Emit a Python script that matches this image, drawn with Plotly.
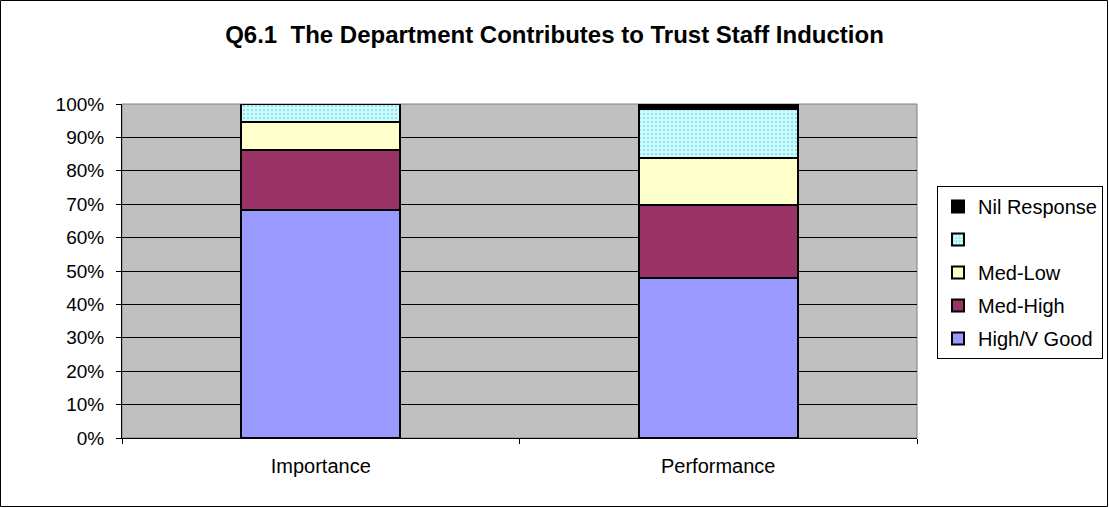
import plotly.graph_objects as go

categories = ["Importance", "Performance"]
series_names = ["High/V Good", "Med-High", "Med-Low", " ", "Nil Response"]
high_vgood = [68.2, 47.8]
med_high = [18.0, 22.0]
med_low = [8.4, 14.0]
low_blank = [5.4, 14.7]
nil_response = [0.0, 1.5]
y_ticks = [0, 10, 20, 30, 40, 50, 60, 70, 80, 90, 100]

W, H = 1109, 508
ML, MR, MT, MB = 122, 192, 104, 70
PW, PH = W - ML - MR, H - MT - MB

fills = ["#9999FF", "#993366", "#FFFFCC", "#CCFFFF", "#000000"]
values = [high_vgood, med_high, med_low, low_blank, nil_response]

fig = go.Figure()
for i, (name, vals, col) in enumerate(zip(series_names, values, fills)):
    marker = dict(color=col, line=dict(color="#000000", width=2))
    if i == 3:
        marker["pattern"] = dict(shape=".", bgcolor="#CCFFFF", fgcolor="#99DDEE",
                                 size=4, solidity=0.3, fillmode="replace")
    fig.add_trace(go.Bar(x=categories, y=vals, name=name, marker=marker,
                         width=0.4, legendgroup=f"g{i}", legendrank=len(values) - i))

fig.update_layout(
    barmode="stack",
    width=W, height=H,
    margin=dict(l=ML, r=MR, t=MT, b=MB, autoexpand=False),
    paper_bgcolor="#FFFFFF",
    plot_bgcolor="#C0C0C0",
    font=dict(family="Liberation Sans, Arial, sans-serif", size=20, color="#000000"),
    title=dict(text="<b>Q6.1  The Department Contributes to Trust Staff Induction</b>",
               x=0.5, xref="container", xanchor="center",
               y=1 - 35 / H, yref="container", yanchor="middle",
               font=dict(size=24)),
    showlegend=True,
    legend=dict(
        x=(937 - ML) / PW, xanchor="left",
        y=(H - MB - 186) / PH, yanchor="top",
        traceorder="grouped",
        tracegroupgap=4,
        bgcolor="#FFFFFF",
        bordercolor="#000000", borderwidth=1,
        font=dict(size=20),
        itemwidth=30,
    ),
    xaxis=dict(
        showline=True, linecolor="#000000", linewidth=1,
        ticks="outside", tickson="boundaries", ticklen=5, tickcolor="#000000",
        showgrid=False, tickfont=dict(size=20), ticklabelstandoff=10,
    ),
    yaxis=dict(
        range=[0, 100], tickvals=y_ticks,
        ticktext=[f"{v}%" for v in y_ticks],
        showline=True, linecolor="#000000", linewidth=1,
        ticks="outside", ticklen=5, tickcolor="#000000",
        showgrid=True, gridcolor="#000000", gridwidth=1,
        zeroline=False, tickfont=dict(size=19), ticklabelstandoff=8,
    ),
    shapes=[
        dict(type="rect", xref="paper", yref="paper",
             x0=-ML / PW + 0.5 / PW, x1=1 + MR / PW - 1.5 / PW,
             y0=-MB / PH + 1.5 / PH, y1=1 + MT / PH - 0.5 / PH,
             line=dict(color="#000000", width=1), layer="below"),
        dict(type="rect", xref="paper", yref="paper",
             x0=0, x1=1, y0=0, y1=1,
             line=dict(color="#808080", width=1), layer="below"),
    ],
)

fig.write_html("out.html")
